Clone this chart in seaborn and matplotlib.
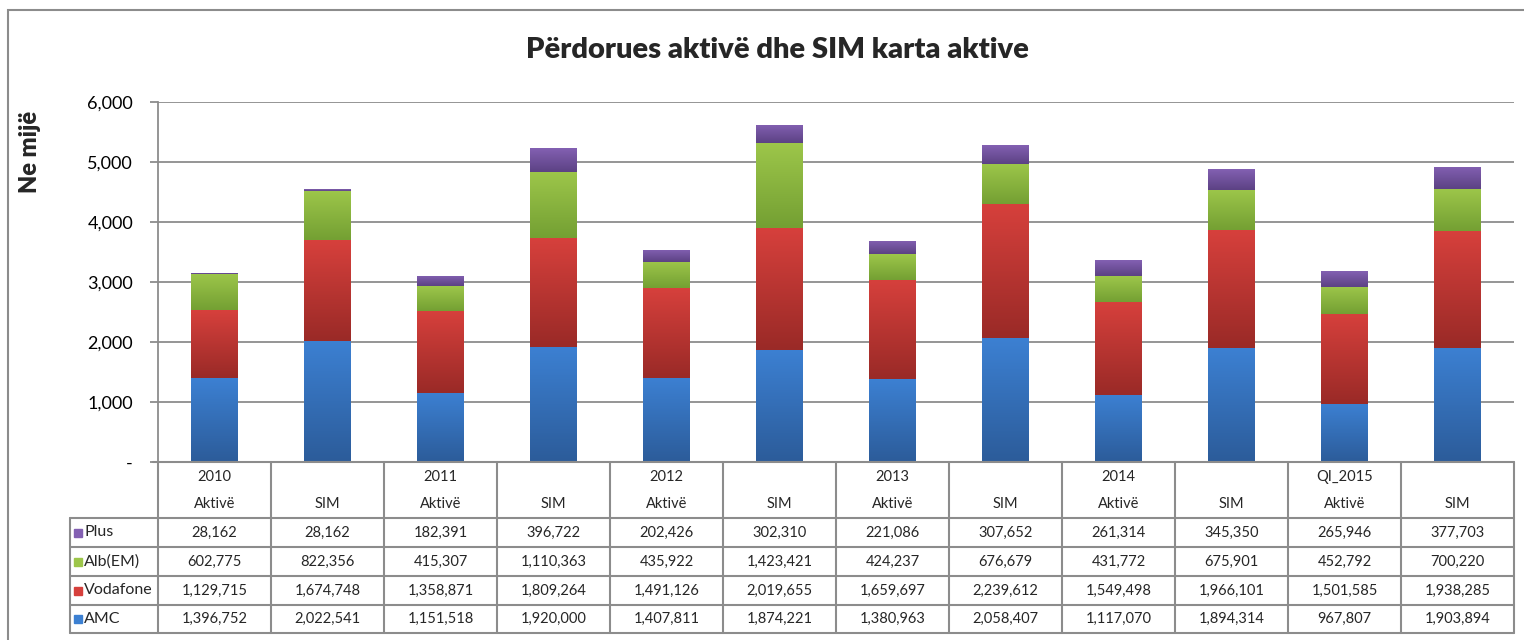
import matplotlib
matplotlib.use("Agg")
import matplotlib.pyplot as plt
import numpy as np
import pandas as pd
import seaborn as sns
from matplotlib.colors import LinearSegmentedColormap
from matplotlib.patches import Rectangle
from matplotlib.transforms import blended_transform_factory

years = ["2010", "", "2011", "", "2012", "", "2013", "", "2014", "", "QI_2015", ""]
kinds = ["Aktivë", "SIM"] * 6
series_names = ["Plus", "Alb(EM)", "Vodafone", "AMC"]  # table order, top to bottom
plus = [28162, 28162, 182391, 396722, 202426, 302310, 221086, 307652, 261314, 345350, 265946, 377703]
alb = [602775, 822356, 415307, 1110363, 435922, 1423421, 424237, 676679, 431772, 675901, 452792, 700220]
vodafone = [1129715, 1674748, 1358871, 1809264, 1491126, 2019655, 1659697, 2239612, 1549498, 1966101, 1501585, 1938285]
amc = [1396752, 2022541, 1151518, 1920000, 1407811, 1874221, 1380963, 2058407, 1117070, 1894314, 967807, 1903894]

# gradient colours (top, bottom) per series
colors = {
    "AMC": ("#3c80d2", "#2c5c9a"),
    "Vodafone": ("#d6403c", "#9a2a27"),
    "Alb(EM)": ("#9dc64a", "#74a033"),
    "Plus": ("#8360b2", "#5c4284"),
}

W, H = 1524, 640
sns.set_theme(style="white")
plt.rcParams['font.family'] = ['Lato', 'DejaVu Sans']

cats = [f"{y}|{k}|{i}" for i, (y, k) in enumerate(zip(years, kinds))]
df = pd.DataFrame({"cat": cats, "AMC": amc, "Vodafone": vodafone,
                   "Alb(EM)": alb, "Plus": plus})

fig = plt.figure(figsize=(W / 100, H / 100), dpi=100)
ax = fig.add_axes([158 / W, 1 - 462 / H, (1514 - 158) / W, (462 - 102) / H])


def px(x, y):
    """pixel position -> figure fraction"""
    return x / W, 1 - y / H


def gradient_fill(ax, bars, top, bottom):
    cmap = LinearSegmentedColormap.from_list("g", [bottom, top])
    grad = np.linspace(0, 1, 64).reshape(-1, 1)
    for bar in bars:
        x0, y0 = bar.get_x(), bar.get_y()
        w, h = bar.get_width(), bar.get_height()
        if h <= 0:
            continue
        im = ax.imshow(grad, extent=[x0, x0 + w, y0, y0 + h], origin="lower",
                       aspect="auto", cmap=cmap, zorder=3, interpolation="bilinear")
        im.set_clip_path(bar)


bottom = np.zeros(len(cats))
for name in ["AMC", "Vodafone", "Alb(EM)", "Plus"]:
    vals = df[name].to_numpy() / 1000
    n_before = len(ax.patches)
    sns.barplot(data=df.assign(v=vals), x="cat", y="v", order=cats, ax=ax,
                color=colors[name][0], saturation=1, errorbar=None,
                width=0.41, bottom=bottom, linewidth=0, zorder=2)
    gradient_fill(ax, ax.patches[n_before:], *colors[name])
    bottom = bottom + vals

ax.set_xlim(-0.5, len(cats) - 0.5)
ax.set_ylim(0, 6000)
ax.set_yticks(range(0, 6001, 1000))
ax.set_yticklabels(["-"] + [f"{v:,}" for v in range(1000, 6001, 1000)])
ax.set_xticks([])
ax.set_xlabel("")
ax.set_ylabel("")
ax.yaxis.grid(True, color="#8c8c8c", linewidth=1.3)
ax.set_axisbelow(True)
for side in ["top", "right", "bottom"]:
    ax.spines[side].set_visible(False)
ax.spines["left"].set_color("#8c8c8c")
ax.spines["left"].set_linewidth(1.3)
ax.tick_params(axis="y", left=True, length=6, width=1.3, color="#8c8c8c",
               labelsize=13, pad=12, labelcolor="black")

# --data table under the plot
trans = blended_transform_factory(ax.transData, fig.transFigure)
line_kw = dict(color="#8c8c8c", linewidth=1.5)
row_edges = [462, 518, 547, 576, 605, 633]
x_left = 70

for k in range(len(cats) + 1):
    fig.add_artist(plt.Line2D([k - 0.5, k - 0.5], [px(0, 462)[1], px(0, 633)[1]],
                              transform=trans, **line_kw))
for y in row_edges:
    fig.add_artist(plt.Line2D([px(x_left if y > 462 else 153, 0)[0], px(1514, 0)[0]],
                              [px(0, y)[1]] * 2, transform=fig.transFigure, **line_kw))
fig.add_artist(plt.Line2D([px(x_left, 0)[0]] * 2, [px(0, 518)[1], px(0, 633)[1]],
                          transform=fig.transFigure, **line_kw))

for i, (y, k) in enumerate(zip(years, kinds)):
    fig.text(i, px(0, 477)[1], y, transform=trans, ha="center", va="center", fontsize=10.5)
    fig.text(i, px(0, 504)[1], k, transform=trans, ha="center", va="center", fontsize=10.5)

table_rows = {"Plus": plus, "Alb(EM)": alb, "Vodafone": vodafone, "AMC": amc}
for r, name in enumerate(series_names):
    yc = (row_edges[r + 1] + row_edges[r + 2]) / 2
    fig.add_artist(Rectangle(px(74, yc + 4), 8 / W, 8 / H, transform=fig.transFigure,
                             color=colors[name][0]))
    fig.text(*px(84, yc), name, ha="left", va="center", fontsize=11.5)
    for i, v in enumerate(table_rows[name]):
        fig.text(i, px(0, yc)[1], f"{v:,}", transform=trans,
                 ha="center", va="center", fontsize=10.5)

# --titles and chart border
fig.text(*px(777, 50), "Përdorues aktivë dhe SIM karta aktive",
         ha="center", va="center", fontsize=21, fontweight="heavy")
fig.text(*px(30, 152), "Ne mijë", ha="center", va="center", rotation=90,
         fontsize=17, fontweight="heavy")
fig.add_artist(Rectangle(px(8, 700), 2, (700 - 10) / H, transform=fig.transFigure,
                         fill=False, edgecolor="#8c8c8c", linewidth=1.5))

fig.savefig("out.png", dpi=100)
